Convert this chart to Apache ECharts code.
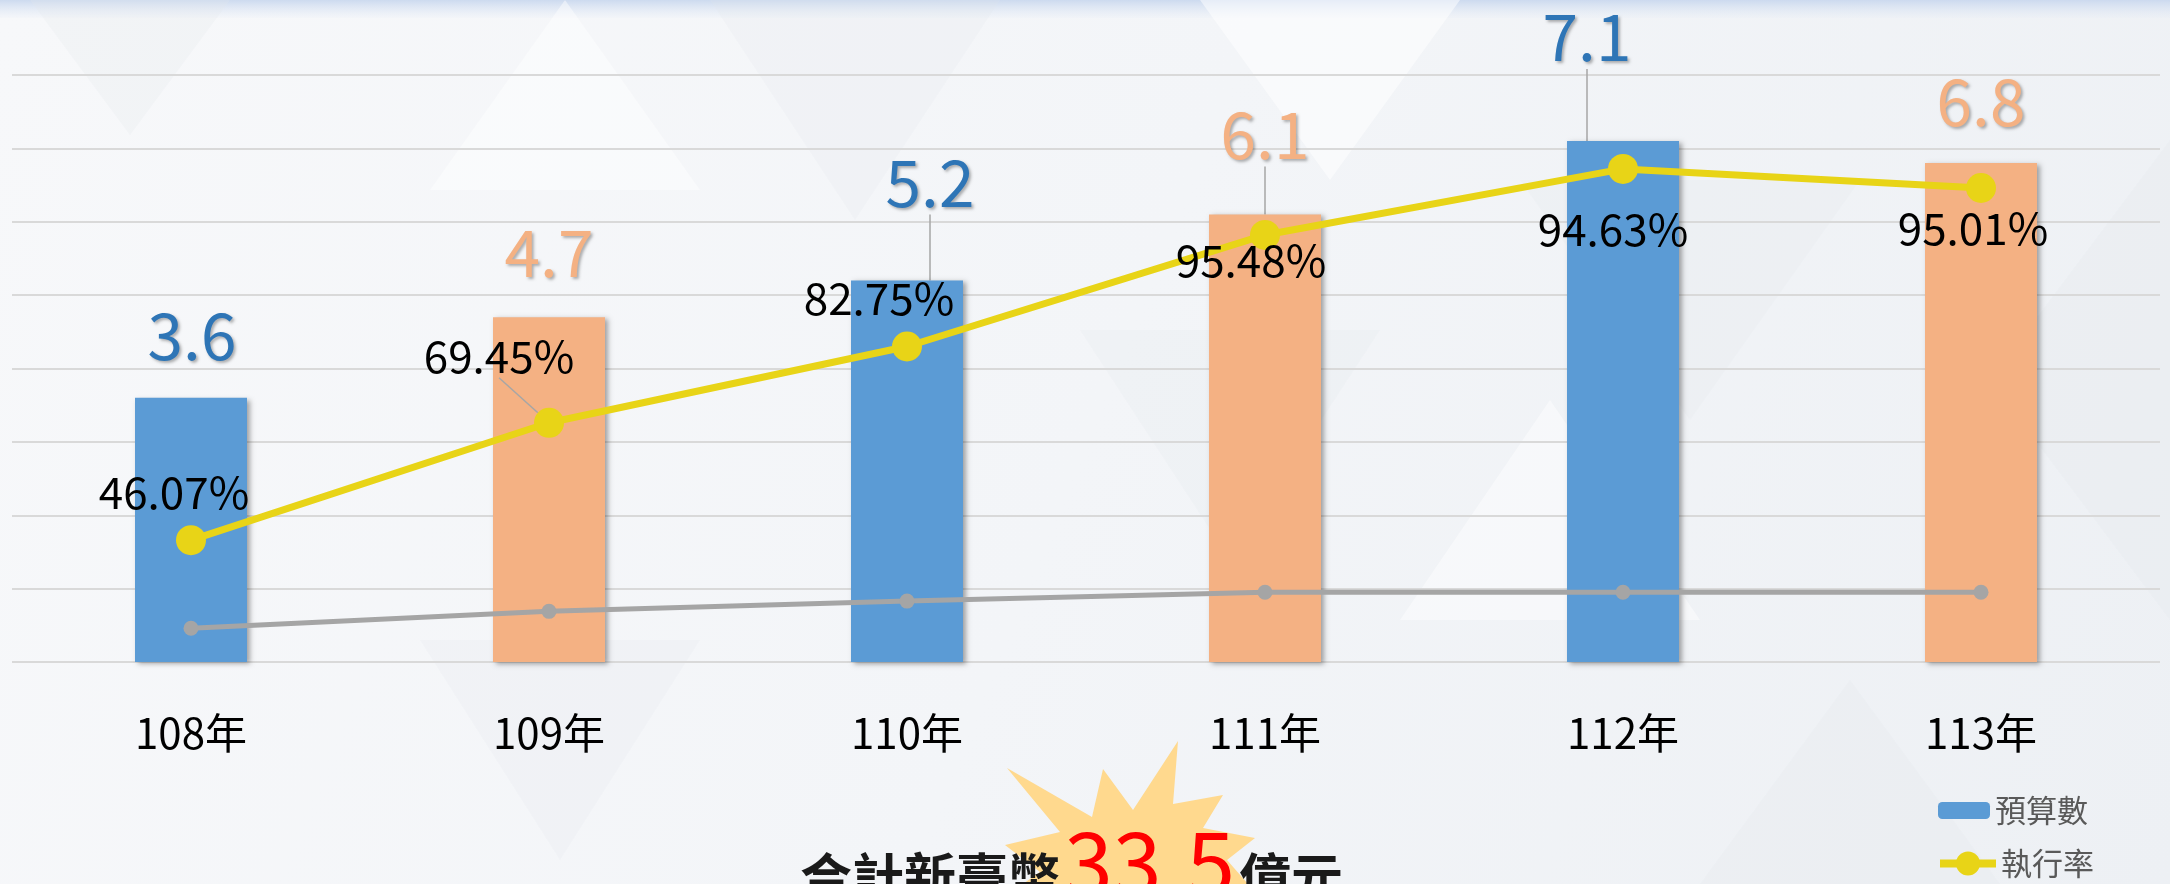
<!DOCTYPE html>
<html>
<head>
<meta charset="utf-8">
<title>預算數與執行率</title>
<script src="https://cdn.jsdelivr.net/npm/echarts@6/dist/echarts.min.js"></script>
<style>
  html, body { margin: 0; padding: 0; }
  #main { width: 2170px; height: 884px; }
</style>
</head>
<body>
<div id="main"></div>
<script>
// 年度
var years = ['108年', '109年', '110年', '111年', '112年', '113年'];
// 預算數 (億元)
var budget = [3.6, 4.7, 5.2, 6.1, 7.1, 6.8];
// 執行數 (億元) 黃線
var executed = [1.66, 3.26, 4.30, 5.82, 6.72, 6.46];
// 執行率 (%) 標籤
var rate = [46.07, 69.45, 82.75, 95.48, 94.63, 95.01];
// 灰線 (執行率比值)
var rateLine = [0.46, 0.69, 0.83, 0.95, 0.95, 0.95];

// 標籤位移 (相對柱頂 / 圓點中心)
var barLabelShift = [[1, -62], [0, -64], [23, -98], [0, -80], [-36, -104], [0, -61]];
var barLeader = [false, false, true, true, true, false];
var rateLabelShift = [[-17, -48], [-50, -67], [-28, -48], [-14, 25], [-10, 60], [-8, 40]];
var rateLeader = [false, true, false, false, false, false];

var FONT = 'Noto Sans CJK TC';
var blue = '#5B9BD5', orange = '#F4B183';
var blueText = '#2E75B6', orangeText = '#F4B183';
var yellow = '#E8D417', gray = '#A5A5A5';

var chart = echarts.init(document.getElementById('main'));

// 背景淡三角形
function tri(points, fill) {
  return { type: 'polygon', z: -10, silent: true, shape: { points: points }, style: { fill: fill } };
}

var legendText = { fontSize: 31, color: '#595959', fontFamily: FONT };

var option = {
  backgroundColor: {
    type: 'linear', x: 0, y: 0, x2: 1, y2: 1,
    colorStops: [
      { offset: 0, color: '#F7F8FA' },
      { offset: 0.5, color: '#F3F5F8' },
      { offset: 1, color: '#EDF0F4' }
    ]
  },
  animation: false,
  textStyle: { fontFamily: FONT },
  grid: { left: 12, top: 75, width: 2148, height: 587 },
  legend: [
    {
      data: ['預算數'],
      left: 1933,
      top: 790,
      itemWidth: 52,
      itemHeight: 17,
      textStyle: legendText
    },
    {
      data: ['執行率'],
      left: 1931,
      top: 843,
      itemWidth: 56,
      itemHeight: 30,
      lineStyle: { width: 8 },
      textStyle: legendText
    }
  ],
  xAxis: {
    type: 'category',
    data: years,
    axisLine: { show: false },
    axisTick: { show: false },
    axisLabel: { fontSize: 42, color: '#000', margin: 50, fontFamily: FONT }
  },
  yAxis: {
    type: 'value',
    min: 0,
    max: 8,
    interval: 1,
    axisLabel: { show: false },
    axisLine: { show: false },
    axisTick: { show: false },
    splitLine: { lineStyle: { color: '#D9D9D9', width: 2 } }
  },
  graphic: [
    // 上方淡藍色帶
    {
      type: 'rect', z: -10, silent: true,
      shape: { x: 0, y: 0, width: 2170, height: 18 },
      style: {
        fill: {
          type: 'linear', x: 0, y: 0, x2: 0, y2: 1,
          colorStops: [{ offset: 0, color: 'rgba(200,215,238,0.9)' }, { offset: 1, color: 'rgba(220,230,245,0.1)' }]
        }
      }
    },
    tri([[30, 0], [230, 0], [130, 135]], 'rgba(226,230,236,0.25)'),
    tri([[430, 190], [700, 190], [565, 0]], 'rgba(255,255,255,0.45)'),
    tri([[710, 0], [1000, 0], [855, 220]], 'rgba(226,230,236,0.2)'),
    tri([[1200, 0], [1460, 0], [1330, 180]], 'rgba(255,255,255,0.5)'),
    tri([[1520, 180], [1860, 180], [1690, 420]], 'rgba(226,230,236,0.2)'),
    tri([[1080, 330], [1380, 330], [1230, 560]], 'rgba(226,230,236,0.2)'),
    tri([[1400, 620], [1700, 620], [1550, 400]], 'rgba(255,255,255,0.45)'),
    tri([[2170, 140], [2170, 620], [1990, 380]], 'rgba(226,230,236,0.25)'),
    tri([[420, 640], [700, 640], [560, 860]], 'rgba(226,230,236,0.2)'),
    tri([[1700, 884], [2000, 884], [1850, 680]], 'rgba(226,230,236,0.25)'),
    // 爆炸星形
    {
      type: 'polygon', z: 1, silent: true,
      shape: {
        points: [[1005, 845], [1060, 832], [1007, 768], [1092, 817], [1103, 769], [1133, 810],
                 [1178, 741], [1173, 804], [1223, 795], [1203, 828], [1255, 838], [1227, 860],
                 [1262, 900], [1130, 915], [1000, 900], [1040, 872]]
      },
      style: { fill: '#FFD98E' }
    },
    {
      type: 'text', z: 2, silent: true, left: 800, top: 851,
      style: { text: '合計新臺幣', fontSize: 52, fontWeight: 'bold', fill: '#1A1A1A', fontFamily: FONT }
    },
    {
      type: 'text', z: 2, silent: true, left: 1064, top: 819,
      style: { text: '33.5', fontSize: 88, fill: '#FF0000', fontFamily: FONT }
    },
    {
      type: 'text', z: 2, silent: true, left: 1239, top: 851,
      style: { text: '億元', fontSize: 52, fontWeight: 'bold', fill: '#1A1A1A', fontFamily: FONT }
    }
  ],
  series: [
    {
      name: '預算數',
      type: 'bar',
      barWidth: 112,
      itemStyle: {
        color: blue,
        shadowColor: 'rgba(0,0,0,0.35)',
        shadowBlur: 5,
        shadowOffsetX: 3,
        shadowOffsetY: 2
      },
      data: budget.map(function (v, i) {
        return {
          value: v,
          itemStyle: { color: i % 2 ? orange : blue },
          label: { color: i % 2 ? orangeText : blueText },
          labelLine: { show: barLeader[i] }
        };
      }),
      label: {
        show: true,
        position: 'top',
        fontSize: 64,
        fontFamily: FONT,
        textShadowColor: 'rgba(0,0,0,0.3)',
        textShadowBlur: 3,
        textShadowOffsetX: 2,
        textShadowOffsetY: 2
      },
      labelLine: { show: false, lineStyle: { color: '#A6A6A6', width: 1.5 } },
      labelLayout: function (p) {
        var s = barLabelShift[p.dataIndex];
        return {
          x: p.rect.x + p.rect.width / 2 + s[0],
          y: p.rect.y + s[1],
          align: 'center',
          verticalAlign: 'middle'
        };
      }
    },
    {
      name: '執行率比',
      type: 'line',
      data: rateLine,
      symbol: 'circle',
      symbolSize: 15,
      itemStyle: { color: gray },
      lineStyle: { color: gray, width: 5 },
      silent: true
    },
    {
      name: '執行率',
      type: 'line',
      symbol: 'circle',
      symbolSize: 30,
      itemStyle: { color: yellow },
      lineStyle: { color: yellow, width: 7 },
      data: executed.map(function (v, i) {
        return { value: v, labelLine: { show: rateLeader[i] } };
      }),
      label: {
        show: true,
        fontSize: 44,
        color: '#000',
        fontFamily: FONT,
        formatter: function (p) { return rate[p.dataIndex].toFixed(2) + '%'; }
      },
      labelLine: { show: false, lineStyle: { color: '#A6A6A6', width: 1.5 } },
      labelLayout: function (p) {
        var s = rateLabelShift[p.dataIndex];
        return {
          x: p.rect.x + p.rect.width / 2 + s[0],
          y: p.rect.y + p.rect.height / 2 + s[1],
          align: 'center',
          verticalAlign: 'middle'
        };
      }
    }
  ]
};

chart.setOption(option);
</script>
</body>
</html>
